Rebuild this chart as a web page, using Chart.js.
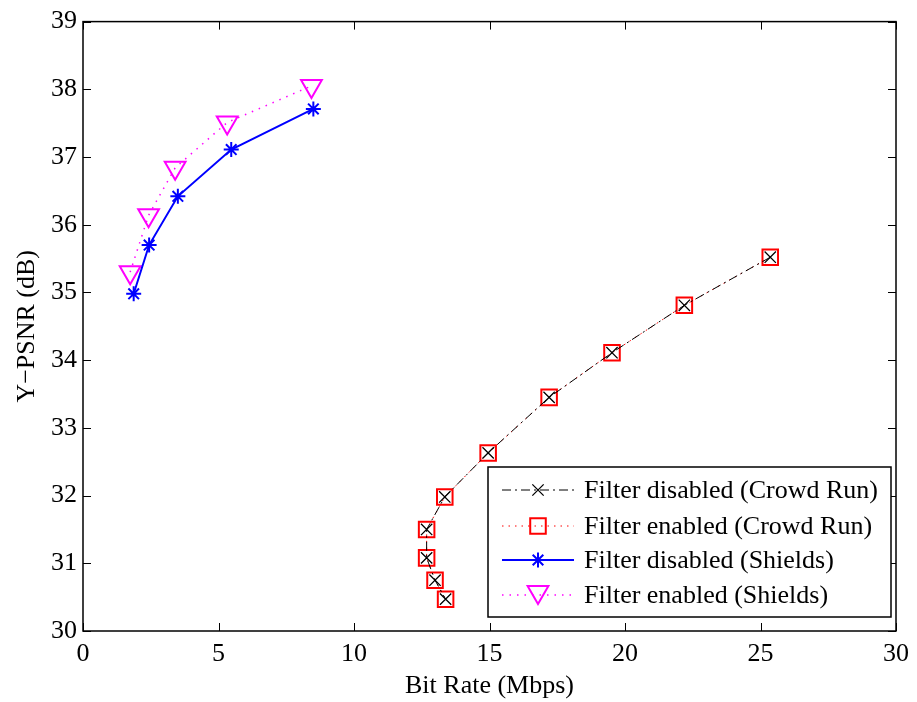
<!DOCTYPE html>
<html>
<head>
<meta charset="utf-8">
<script src="https://cdn.jsdelivr.net/npm/chart.js@4"></script>
<style>
  html, body { margin: 0; padding: 0; background: #fff; }
  #wrap { width: 917px; height: 702px; }
</style>
</head>
<body>
<div id="wrap"><canvas id="psnrChart" width="917" height="702"></canvas></div>
<script>
// Crowd Run (both curves sit on top of each other)
const crowdRate = [25.36, 22.19, 19.52, 17.20, 14.95, 13.35, 12.68, 12.68, 12.99, 13.38];
const crowdOffPsnr = [35.52, 34.81, 34.11, 33.45, 32.63, 31.98, 31.50, 31.08, 30.75, 30.47];
const crowdOnPsnr = [35.52, 34.81, 34.11, 33.45, 32.63, 31.98, 31.50, 31.08, 30.75, 30.47];

// Shields
const shieldsOffRate = [1.87, 2.44, 3.50, 5.47, 8.50];
const shieldsOffPsnr = [34.98, 35.70, 36.42, 37.11, 37.71];
const shieldsOnRate = [1.74, 2.42, 3.40, 5.32, 8.43];
const shieldsOnPsnr = [35.30, 36.14, 36.84, 37.51, 38.05];

const seriesNames = [
  'Filter disabled (Crowd Run)',
  'Filter enabled (Crowd Run)',
  'Filter disabled (Shields)',
  'Filter enabled (Shields)'
];
const xTicks = [0, 5, 10, 15, 20, 25, 30];
const yTicks = [30, 31, 32, 33, 34, 35, 36, 37, 38, 39];

const FONT = '"Liberation Serif", "Times New Roman", serif';

function pts(xs, ys) {
  return xs.map((x, i) => ({ x: x, y: ys[i] }));
}

const datasets = [
  {
    label: seriesNames[0],
    data: pts(crowdRate, crowdOffPsnr),
    borderColor: '#000', borderWidth: 1, borderDash: [9, 4, 2, 4],
    pointStyle: 'crossRot', pointRadius: 8, pointBorderColor: '#000', pointBorderWidth: 1.3,
    order: 1
  },
  {
    label: seriesNames[1],
    data: pts(crowdRate, crowdOnPsnr),
    borderColor: '#ff0000', borderWidth: 1, borderDash: [1.5, 5],
    pointStyle: 'rect', pointRadius: 11, pointBorderColor: '#ff0000', pointBorderWidth: 2,
    pointBackgroundColor: 'rgba(0,0,0,0)',
    order: 2
  },
  {
    label: seriesNames[2],
    data: pts(shieldsOffRate, shieldsOffPsnr),
    borderColor: '#0000ff', borderWidth: 2,
    pointStyle: 'star', pointRadius: 7.5, pointBorderColor: '#0000ff', pointBorderWidth: 2,
    order: 3
  },
  {
    label: seriesNames[3],
    data: pts(shieldsOnRate, shieldsOnPsnr),
    borderColor: '#ff00ff', borderWidth: 1.5, borderDash: [1.5, 6],
    pointStyle: 'triangle', pointRotation: 180, pointRadius: 12, pointBorderColor: '#ff00ff',
    pointBorderWidth: 2, pointBackgroundColor: 'rgba(0,0,0,0)',
    order: 4
  }
];
datasets.forEach(d => { d.showLine = true; d.fill = false; d.tension = 0; d.pointHoverRadius = d.pointRadius; });

// box, inward ticks and legend the way the matlab figure has them
const boxPlugin = {
  id: 'boxPlugin',
  afterDraw(chart) {
    const ctx = chart.ctx;
    const a = chart.chartArea;
    const xs = chart.scales.x, ys = chart.scales.y;
    ctx.save();
    ctx.strokeStyle = '#000';
    ctx.lineWidth = 1.5;
    ctx.strokeRect(a.left, a.top, a.right - a.left, a.bottom - a.top);
    ctx.lineWidth = 1;
    ctx.beginPath();
    xTicks.forEach(v => {
      const p = Math.round(xs.getPixelForValue(v)) + 0.5;
      ctx.moveTo(p, a.bottom); ctx.lineTo(p, a.bottom - 8);
      ctx.moveTo(p, a.top); ctx.lineTo(p, a.top + 8);
    });
    yTicks.forEach(v => {
      const p = Math.round(ys.getPixelForValue(v)) + 0.5;
      ctx.moveTo(a.left, p); ctx.lineTo(a.left + 8, p);
      ctx.moveTo(a.right, p); ctx.lineTo(a.right - 8, p);
    });
    ctx.stroke();

    // legend box
    const lx = 488, ly = 467, lw = 403, lh = 150;
    ctx.fillStyle = '#fff';
    ctx.fillRect(lx, ly, lw, lh);
    ctx.lineWidth = 1.5;
    ctx.strokeRect(lx, ly, lw, lh);
    ctx.font = '26px ' + FONT;
    ctx.textBaseline = 'middle';
    ctx.textAlign = 'left';
    const rowY = [490, 526, 560, 595];
    chart.data.datasets.forEach((ds, i) => {
      const y = rowY[i];
      const x0 = lx + 14, x1 = lx + 86, cx = (x0 + x1) / 2;
      ctx.save();
      ctx.strokeStyle = ds.borderColor;
      ctx.lineWidth = ds.borderWidth;
      ctx.setLineDash(ds.borderDash || []);
      ctx.beginPath();
      ctx.moveTo(x0, y); ctx.lineTo(x1, y);
      ctx.stroke();
      ctx.restore();
      ctx.save();
      ctx.strokeStyle = ds.pointBorderColor;
      ctx.fillStyle = 'rgba(0,0,0,0)';
      ctx.lineWidth = ds.pointBorderWidth;
      Chart.helpers.drawPoint(ctx, {
        pointStyle: ds.pointStyle,
        rotation: ds.pointRotation || 0,
        radius: ds.pointRadius,
        borderWidth: ds.pointBorderWidth
      }, cx, ds.pointStyle === 'triangle' ? y - 3 : y);
      ctx.restore();
      ctx.fillStyle = '#000';
      ctx.fillText(ds.label, lx + 96, y + 1);
    });
    ctx.restore();
  }
};

new Chart(document.getElementById('psnrChart').getContext('2d'), {
  type: 'scatter',
  data: { datasets: datasets },
  options: {
    responsive: false,
    animation: false,
    layout: { padding: { top: 15, right: 20, left: 0, bottom: 0 } },
    plugins: { legend: { display: false }, tooltip: { enabled: false } },
    scales: {
      x: {
        type: 'linear', min: 0, max: 30,
        afterBuildTicks: s => { s.ticks = xTicks.map(v => ({ value: v })); },
        afterFit: s => { s.height = 71; },
        grid: { display: false, drawTicks: false },
        border: { display: false },
        ticks: { color: '#000', padding: 8, font: { family: FONT, size: 26 } },
        title: { display: true, text: 'Bit Rate (Mbps)', color: '#000', padding: 0,
                 font: { family: FONT, size: 26 } }
      },
      y: {
        type: 'linear', min: 30, max: 39,
        afterBuildTicks: s => { s.ticks = yTicks.map(v => ({ value: v })); },
        afterFit: s => { s.width = 83; },
        grid: { display: false, drawTicks: false },
        border: { display: false },
        ticks: { color: '#000', padding: 6, font: { family: FONT, size: 26 } },
        title: { display: true, text: 'Y\u2212PSNR (dB)', color: '#000', padding: { top: 12, bottom: 0 },
                 font: { family: FONT, size: 26 } }
      }
    }
  },
  plugins: [boxPlugin]
});
</script>
</body>
</html>
